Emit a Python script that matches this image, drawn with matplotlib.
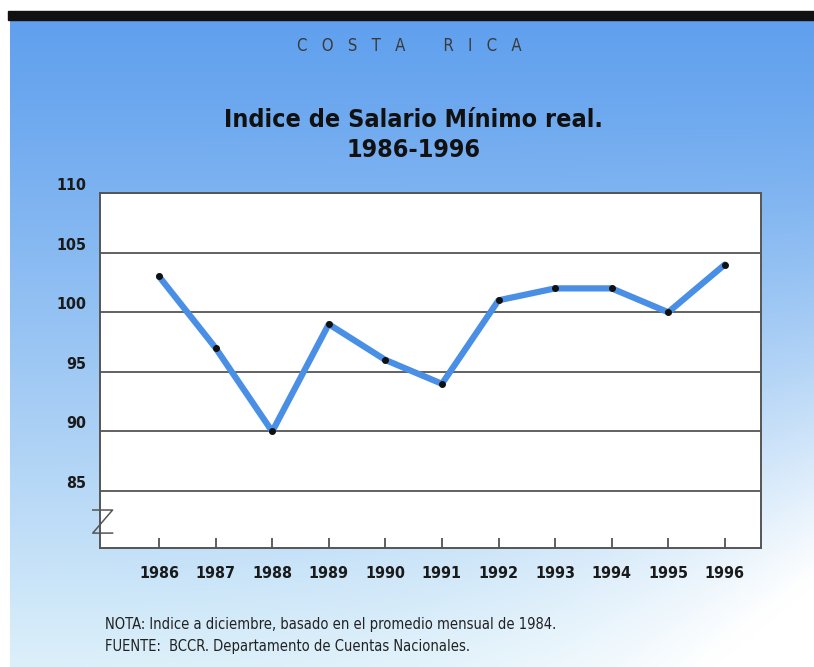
import numpy as np
import matplotlib.pyplot as plt
from matplotlib.patches import Rectangle
from matplotlib.lines import Line2D

# data
years = [1986, 1987, 1988, 1989, 1990, 1991, 1992, 1993, 1994, 1995, 1996]
indice = [103, 97, 90, 99, 96, 94, 101, 102, 102, 100, 104]
yticks = [85, 90, 95, 100, 105, 110]

country = "C   O   S   T   A        R   I   C   A"
title = "Indice de Salario Mínimo real.\n1986-1996"
nota = "NOTA: Indice a diciembre, basado en el promedio mensual de 1984."
fuente = "FUENTE:  BCCR. Departamento de Cuentas Nacionales."

plt.rcParams['font.family'] = ['DejaVu Sans']
plt.rcParams['font.stretch'] = 'condensed'

W, H = 814, 667
fig = plt.figure(figsize=(W / 100, H / 100), dpi=100)
fig.patch.set_facecolor('white')

# blue gradient panel behind everything
bg = fig.add_axes([10 / W, 0, 1 - 10 / W, (H - 20) / H], zorder=-5)
ny, nx = 200, 200
t = np.linspace(0, 1, ny)[:, None]
s = np.linspace(0, 1, nx)[None, :]
top = np.array([96, 160, 238]) / 255
bot = np.array([220, 240, 250]) / 255
v = (t ** 1.1)[..., None]
img = top * (1 - v) + bot * v
w = (np.clip(s * t * 1.15, 0, 1) ** 3)[..., None]
img = img * (1 - w) + np.ones(3) * w
img = img * np.ones((ny, nx, 1))
bg.imshow(img, aspect='auto', extent=[0, 1, 0, 1], interpolation='bicubic')
bg.axis('off')

# black bar at the top
fig.patches.append(Rectangle((8 / W, (H - 20) / H), 1, 9 / H,
                             transform=fig.transFigure, color='#111111', zorder=5))

fig.text(0.503, 1 - 46 / H, country, ha='center', va='center', fontsize=12,
         color='#3a3a3a', fontweight='light')
fig.text(0.508, 1 - 135 / H, title, ha='center', va='center', fontsize=18,
         fontweight='bold', color='#111111', linespacing=1.3)

ax = fig.add_axes([100 / W, (H - 548) / H, 661 / W, 355 / H])
ax.set_facecolor('white')
ax.plot(years, indice, color='#4a8fe6', lw=4.5, solid_capstyle='round', zorder=3)
ax.plot(years, indice, 'o', color='#111111', ms=4, zorder=4)

ax.set_xlim(1984.956, 1996.64)
ax.set_ylim(80.23, 110)
ax.set_xticks(years)
ax.set_xticklabels([str(y) for y in years], fontsize=11.5, fontweight='bold',
                   color='#1a1a1a')
ax.set_yticks(yticks)
ax.set_yticklabels([str(y) for y in yticks], fontsize=11.5, fontweight='bold',
                   color='#1a1a1a')
for lab in ax.get_yticklabels():
    lab.set_verticalalignment('bottom')
ax.tick_params(axis='x', direction='in', length=7, width=1.2, color='#444444', pad=13)
ax.tick_params(axis='y', length=0, pad=10)
ax.yaxis.grid(True, color='#555555', lw=1.3)
ax.set_axisbelow(True)
for sp in ax.spines.values():
    sp.set_color('#555555')
    sp.set_linewidth(1.4)

# axis break mark
ax.add_line(Line2D([-0.011, 0.019, -0.011, 0.019], [0.107, 0.107, 0.042, 0.042],
                   transform=ax.transAxes, color='#555555', lw=1.1, clip_on=False))

fig.text(105 / W, 1 - 624 / H, nota, fontsize=10.5, color='#222222', va='center')
fig.text(105 / W, 1 - 646 / H, fuente, fontsize=10.5, color='#222222', va='center')

fig.savefig('out.png', dpi=100)
